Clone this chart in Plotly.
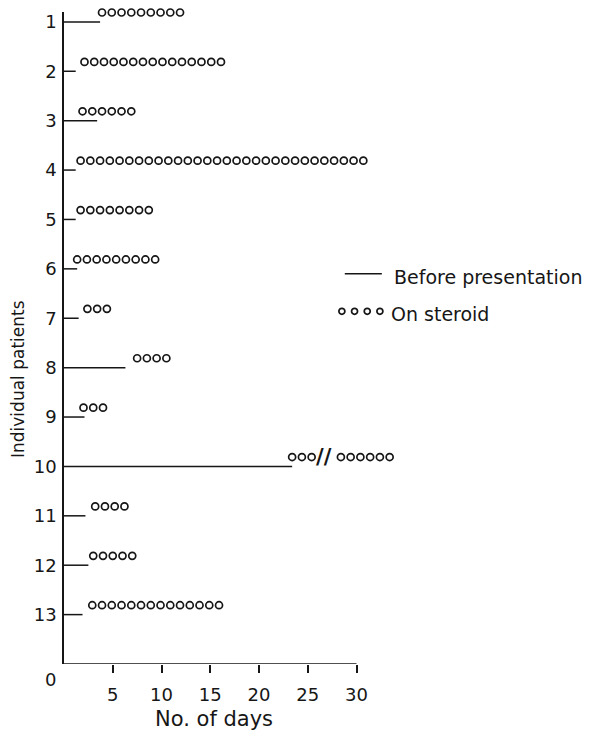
import plotly.graph_objects as go

# ---- data ----
patients = list(range(1, 14))
before_days = [3.7, 1.2, 3.4, 1.2, 1.2, 1.35, 1.5, 6.3, 2.1, 23.4, 2.2, 2.5, 1.9]
steroid_start = [3.9, 2.1, 1.9, 1.7, 1.7, 1.35, 2.4, 7.5, 2.0, 23.4, 3.2, 3.0, 2.9]
steroid_count = [9, 15, 6, 30, 8, 9, 3, 4, 3, 9, 4, 5, 14]
# patient 10: axis break after 3 days, remaining days drawn from resume_day
break_patient = 10
break_after = 3
break_day = 26.7
resume_day = 28.4

x_ticks = [5, 10, 15, 20, 25, 30]
y_tick_labels = [str(p) for p in patients]

INK = "#161616"
FONT = "DejaVu Sans"
ROW_OFF = 0.19  # circles sit slightly above the "before" line

OFF = 8  # page body margin offset
W, H = 594, 734
L, R, T, B = 64 - OFF, 8, 12 - OFF, 78
PW, PH = W - L - R, H - T - B


def px_x(px):  # screen pixel -> paper x
    return (px - OFF - L) / PW


def px_y(py):  # screen pixel -> paper y
    return 1 - (py - OFF - T) / PH


fig = go.Figure()

# before-presentation lines
lx, ly = [], []
for p, b in zip(patients, before_days):
    lx += [0, b, None]
    ly += [p, p, None]
fig.add_trace(go.Scatter(x=lx, y=ly, mode="lines", cliponaxis=False,
                         line=dict(color=INK, width=1.5), showlegend=False,
                         hoverinfo="skip"))

# on-steroid days (one circle per day)
cx, cy = [], []
for p, s, n in zip(patients, steroid_start, steroid_count):
    for i in range(n):
        if p == break_patient and i >= break_after:
            x = resume_day + (i - break_after)
        else:
            x = s + i
        cx.append(x)
        cy.append(p - ROW_OFF)
fig.add_trace(go.Scatter(x=cx, y=cy, mode="markers", cliponaxis=False,
                         marker=dict(symbol="circle-open", size=7,
                                     line=dict(color=INK, width=1.7), color=INK),
                         showlegend=False, hoverinfo="skip"))

# break mark for patient 10
fig.add_annotation(x=break_day, y=break_patient - ROW_OFF, text="<b>//</b>",
                   showarrow=False, xanchor="center", yanchor="middle",
                   font=dict(family=FONT, size=21, color=INK))

# x axis line (only to 30 days)
fig.add_shape(type="line", x0=0, x1=30, y0=14, y1=14,
              line=dict(color=INK, width=1.5), layer="above")

# legend (drawn manually)
fig.add_trace(go.Scatter(x=[28.8, 32.6], y=[6.1, 6.1], mode="lines",
                         line=dict(color=INK, width=1.5), showlegend=False,
                         hoverinfo="skip"))
fig.add_annotation(x=33.6, y=6.16, text="Before presentation", xanchor="left",
                   yanchor="middle", showarrow=False,
                   font=dict(family=FONT, size=19, color=INK))
fig.add_trace(go.Scatter(x=[28.5, 29.8, 31.1, 32.4], y=[6.86] * 4, mode="markers",
                         marker=dict(symbol="circle-open", size=6,
                                     line=dict(color=INK, width=1.7), color=INK),
                         showlegend=False, hoverinfo="skip"))
fig.add_annotation(x=33.3, y=6.92, text="On steroid", xanchor="left",
                   yanchor="middle", showarrow=False,
                   font=dict(family=FONT, size=19, color=INK))

# axis titles and origin label (paper coordinates, outside the plot area)
fig.add_annotation(xref="paper", yref="paper", x=px_x(214), y=px_y(719),
                   text="No. of days", showarrow=False,
                   xanchor="center", yanchor="middle",
                   font=dict(family=FONT, size=21, color=INK))
fig.add_annotation(xref="paper", yref="paper", x=px_x(18), y=px_y(379),
                   text="Individual patients", textangle=-90, showarrow=False,
                   xanchor="center", yanchor="middle",
                   font=dict(family=FONT, size=17, color=INK))
fig.add_annotation(xref="paper", yref="paper", x=px_x(50), y=px_y(679),
                   text="0", showarrow=False, xanchor="center", yanchor="middle",
                   font=dict(family=FONT, size=18, color=INK))

fig.update_layout(
    width=W, height=H,
    margin=dict(l=L, r=R, t=T, b=B, autoexpand=False),
    paper_bgcolor="white", plot_bgcolor="white",
    font=dict(family=FONT, size=17, color=INK),
    showlegend=False,
)
fig.update_xaxes(range=[0, PW / 9.75], tickvals=x_ticks,
                 ticktext=[str(v) for v in x_ticks], automargin=False,
                 ticks="outside", ticklen=8, tickwidth=1.5, tickcolor=INK,
                 showline=False, showgrid=False, zeroline=False,
                 ticklabelstandoff=6,
                 tickfont=dict(family=FONT, size=18, color=INK))
fig.update_yaxes(range=[14, 0.8], tickvals=patients, ticktext=y_tick_labels,
                 automargin=False,
                 ticks="", showline=True, linecolor=INK, linewidth=1.5,
                 showgrid=False, zeroline=False, ticklabelstandoff=2,
                 tickfont=dict(family=FONT, size=18, color=INK))

fig.write_html("out.html")
